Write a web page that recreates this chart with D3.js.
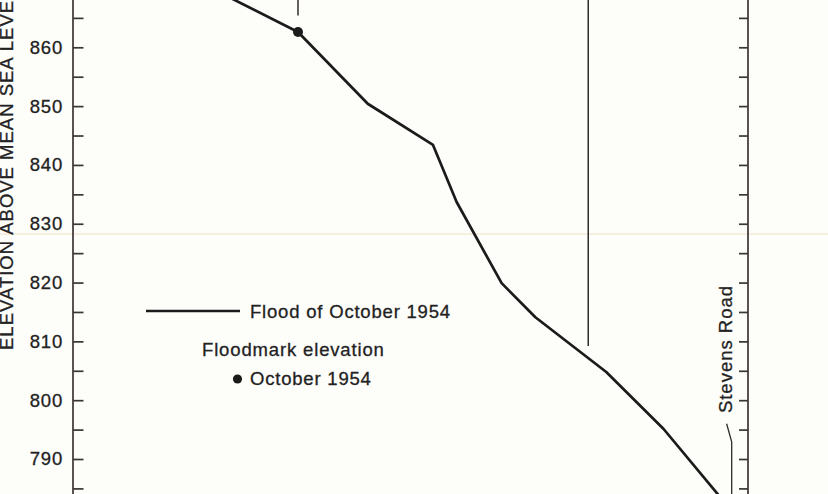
<!DOCTYPE html>
<html>
<head>
<meta charset="utf-8">
<script src="https://cdn.jsdelivr.net/npm/d3@7"></script>
<style>
  html, body { margin: 0; padding: 0; background: #fdfdfa; }
  svg { display: block; }
  text { font-family: "Liberation Sans", Arial, Helvetica, sans-serif; fill: #222; stroke: #222; stroke-width: 0.3px; }
</style>
</head>
<body>
<svg id="chart" width="828" height="494"></svg>
<script>
// Water-surface profile, flood of October 1954
// distance along the channel, miles above the lower reference point
const profileMiles = [4.87, 4.00, 3.38, 2.80, 2.59, 2.19, 1.89, 1.26, 0.75, 0.12];
// water-surface elevation, feet above mean sea level
const profileElev  = [871.0, 862.6, 850.4, 843.4, 833.7, 819.9, 814.1, 804.8, 795.1, 780.6];

// surveyed floodmarks
const markMiles = [4.00];
const markElev  = [862.6];

// structures crossing the channel (vertical reference lines)
const structureMiles  = [4.00, 1.42];
const structureBottom = [865.4, 809.2];

// road crossing near the downstream end
const roadName = "Stevens Road";
const roadMile = 0.145;
const roadLeaderMile = 0.19;
const roadLeaderElev = [796.0, 792.9, 778.0];

// elevation ticks (every 5 ft) and labelled values
const tickValues = d3.range(780, 875, 5);
const labelValues = [790, 800, 810, 820, 830, 840, 850, 860];
const yTitle = "ELEVATION ABOVE MEAN SEA LEVEL";
const legendLineLabel = "Flood of October 1954";
const legendMarkTitle = "Floodmark elevation";
const legendMarkLabel = "October 1954";

const W = 828, H = 494;
const svg = d3.select("#chart");

const x = d3.scaleLinear().domain([6, 0]).range([73, 748]);
const y = d3.scaleLinear().domain([860, 790]).range([47.3, 459]);

const ink = "#1b1b1b";
const axisInk = "#3b3634";
const fontSize = 18.5;

// faint fold in the sheet
svg.append("line")
  .attr("x1", 0).attr("x2", W)
  .attr("y1", 234).attr("y2", 234)
  .attr("stroke", "#f1ead6").attr("stroke-width", 1.5);

// left elevation axis (ticks pointing into the plot)
const leftAxis = d3.axisLeft(y)
  .tickValues(tickValues)
  .tickSizeInner(-10.5)
  .tickSizeOuter(0)
  .tickPadding(10)
  .tickFormat(d => labelValues.includes(d) ? d3.format("d")(d) : "");

const gl = svg.append("g").attr("transform", `translate(${x(6)},0)`).call(leftAxis);
gl.select(".domain").remove();
gl.selectAll(".tick line").attr("stroke", axisInk).attr("stroke-width", 1.7);
gl.selectAll(".tick text")
  .attr("font-size", fontSize)
  .attr("letter-spacing", "0.8px")
  .attr("fill", "#222")
  .style("font-family", '"Liberation Sans", Arial, sans-serif');
gl.append("line")
  .attr("y1", y(872)).attr("y2", y(780))
  .attr("stroke", axisInk).attr("stroke-width", 1.7);

// right elevation axis, unlabeled
const rightAxis = d3.axisLeft(y)
  .tickValues(tickValues)
  .tickSizeInner(9)
  .tickSizeOuter(0)
  .tickFormat("");
const gr = svg.append("g").attr("transform", `translate(${x(0)},0)`).call(rightAxis);
gr.select(".domain").remove();
gr.selectAll(".tick line").attr("stroke", axisInk).attr("stroke-width", 1.7);
gr.append("line")
  .attr("y1", y(872)).attr("y2", y(780))
  .attr("stroke", axisInk).attr("stroke-width", 1.7);

// y-axis title
svg.append("text")
  .attr("transform", `translate(12.8,${350}) rotate(-90)`)
  .attr("font-size", fontSize)
  .attr("letter-spacing", "1px")
  .text(yTitle);

// structure lines
svg.selectAll("line.structure")
  .data(structureMiles)
  .join("line")
  .attr("class", "structure")
  .attr("x1", d => x(d)).attr("x2", d => x(d))
  .attr("y1", y(875))
  .attr("y2", (d, i) => y(structureBottom[i]))
  .attr("stroke", "#2f2b2a").attr("stroke-width", 1.5);

// road label and leader
const leader = d3.line()
  .x(d => x(d[0])).y(d => y(d[1]));
svg.append("path")
  .attr("d", leader([[roadLeaderMile, roadLeaderElev[0]], [roadMile, roadLeaderElev[1]], [roadMile, roadLeaderElev[2]]]))
  .attr("fill", "none").attr("stroke", "#2f2b2a").attr("stroke-width", 1.3);
svg.append("text")
  .attr("transform", `translate(${x(roadMile)},${y(797.8)}) rotate(-90)`)
  .attr("font-size", fontSize)
  .attr("letter-spacing", "1px")
  .text(roadName);

// water-surface profile
const profile = profileMiles.map((m, i) => [m, profileElev[i]]);
svg.append("path")
  .attr("d", d3.line().x(d => x(d[0])).y(d => y(d[1]))(profile))
  .attr("fill", "none")
  .attr("stroke", ink)
  .attr("stroke-width", 2.7)
  .attr("stroke-linejoin", "round");

// floodmarks
svg.selectAll("circle.mark")
  .data(markMiles)
  .join("circle")
  .attr("class", "mark")
  .attr("cx", d => x(d))
  .attr("cy", (d, i) => y(markElev[i]))
  .attr("r", 5)
  .attr("fill", ink);

// legend
const lg = svg.append("g");
lg.append("line")
  .attr("x1", 146).attr("x2", 240)
  .attr("y1", 311).attr("y2", 311)
  .attr("stroke", ink).attr("stroke-width", 2.7);
lg.append("text")
  .attr("x", 250).attr("y", 317.5)
  .attr("font-size", fontSize).attr("letter-spacing", "0.8px")
  .text(legendLineLabel);
lg.append("text")
  .attr("x", 202).attr("y", 356)
  .attr("font-size", fontSize).attr("letter-spacing", "0.85px")
  .text(legendMarkTitle);
lg.append("circle")
  .attr("cx", 237.5).attr("cy", 379)
  .attr("r", 4.6).attr("fill", ink);
lg.append("text")
  .attr("x", 250).attr("y", 385)
  .attr("font-size", fontSize).attr("letter-spacing", "0.8px")
  .text(legendMarkLabel);
</script>
</body>
</html>
